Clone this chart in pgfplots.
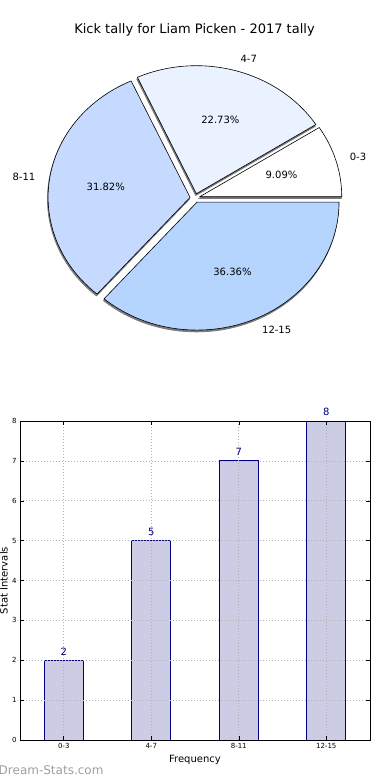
\documentclass[border=0pt]{standalone}
\usepackage{fontspec}
\setmainfont{DejaVu Sans}
\usepackage{pgfplots}
\usepackage{pgfplotstable}
\pgfplotsset{compat=1.18}
\pgfkeys{/pgf/number format/assume math mode=true}
\definecolor{s0}{HTML}{FFFFFF}
\definecolor{s1}{HTML}{EAF1FF}
\definecolor{s2}{HTML}{C6D9FF}
\definecolor{s3}{HTML}{B5D5FF}
\definecolor{navyc}{HTML}{000080}
\definecolor{barfill}{HTML}{CCCCE5}
\definecolor{shadowc}{HTML}{7A7A7A}
\definecolor{wm}{HTML}{9E9E9E}
\newcommand\pv[2]{\csname pie@#1#2\endcsname}

\pgfplotstableread{
label value
0-3 2
4-7 5
8-11 7
12-15 8
}\piedata

\pgfplotstableread{
x y
0 2
1 5
2 7
3 8
}\bardata

\begin{document}
\xdef\pietotal{0}%
\foreach \i in {0,...,3}{%
  \pgfplotstablegetelem{\i}{value}\of\piedata
  \pgfmathsetmacro\tmp{\pietotal+\pgfplotsretval}%
  \xdef\pietotal{\tmp}}%
\xdef\piecum{0}%
\def\ex{0.035}%
\foreach \i in {0,...,3}{%
  \pgfplotstablegetelem{\i}{value}\of\piedata \let\v\pgfplotsretval
  \pgfplotstablegetelem{\i}{label}\of\piedata \let\lab\pgfplotsretval
  \pgfmathsetmacro\a{360*\piecum/\pietotal}%
  \pgfmathsetmacro\b{360*(\piecum+\v)/\pietotal}%
  \pgfmathsetmacro\m{(\a+\b)/2}%
  \pgfmathsetmacro\dx{\ex*cos(\m)}%
  \pgfmathsetmacro\dy{\ex*sin(\m)}%
  \pgfmathsetmacro\sx{\dx+cos(\a)}%
  \pgfmathsetmacro\sy{\dy+sin(\a)}%
  \pgfmathsetmacro\lx{\dx+1.1*cos(\m)}%
  \pgfmathsetmacro\ly{\dy+1.1*sin(\m)}%
  \pgfmathsetmacro\px{\dx+0.6*cos(\m)}%
  \pgfmathsetmacro\py{\dy+0.6*sin(\m)}%
  \pgfmathsetmacro\pct{100*\v/\pietotal}%
  \pgfmathsetmacro\cm{cos(\m)}%
  \ifdim\cm pt>0pt \def\anc{west}\else\def\anc{east}\fi
  \expandafter\xdef\csname pie@a\i\endcsname{\a}%
  \expandafter\xdef\csname pie@b\i\endcsname{\b}%
  \expandafter\xdef\csname pie@dx\i\endcsname{\dx}%
  \expandafter\xdef\csname pie@dy\i\endcsname{\dy}%
  \expandafter\xdef\csname pie@sx\i\endcsname{\sx}%
  \expandafter\xdef\csname pie@sy\i\endcsname{\sy}%
  \expandafter\xdef\csname pie@lx\i\endcsname{\lx}%
  \expandafter\xdef\csname pie@ly\i\endcsname{\ly}%
  \expandafter\xdef\csname pie@px\i\endcsname{\px}%
  \expandafter\xdef\csname pie@py\i\endcsname{\py}%
  \expandafter\xdef\csname pie@p\i\endcsname{\pct}%
  \expandafter\xdef\csname pie@anc\i\endcsname{\anc}%
  \expandafter\xdef\csname pie@l\i\endcsname{\lab}%
  \pgfmathsetmacro\tmp{\piecum+\v}%
  \xdef\piecum{\tmp}}%
\begin{tikzpicture}
\path[use as bounding box] (0,0) rectangle (390pt,780pt);
\node[font=\fontsize{13}{15}\selectfont, anchor=center] at (194.5pt,750pt) {Kick tally for Liam Picken - 2017 tally};

% ---------- pie ----------
\begin{axis}[
  at={(195pt,582pt)}, anchor=center,
  scale only axis, width=284pt, height=256pt,
  xmin=-1, xmax=1, ymin=-1, ymax=1,
  hide axis, clip=false,
]
\pgfplotsinvokeforeach{0,...,3}{
  \filldraw[fill=shadowc, draw=shadowc, line width=0.8pt, xshift=-0.6pt, yshift=-1.8pt]
    (axis cs:{\pv{dx}{#1}},{\pv{dy}{#1}}) -- (axis cs:{\pv{sx}{#1}},{\pv{sy}{#1}})
    arc[start angle=\pv{a}{#1}, end angle=\pv{b}{#1}, x radius=142pt, y radius=128pt] -- cycle;
}
\pgfplotsinvokeforeach{0,...,3}{
  \filldraw[fill=s#1, draw=black, line width=0.6pt, line join=miter]
    (axis cs:{\pv{dx}{#1}},{\pv{dy}{#1}}) -- (axis cs:{\pv{sx}{#1}},{\pv{sy}{#1}})
    arc[start angle=\pv{a}{#1}, end angle=\pv{b}{#1}, x radius=142pt, y radius=128pt] -- cycle;
  \node[anchor=\pv{anc}{#1}, inner sep=0pt, font=\fontsize{10}{12}\selectfont]
    at (axis cs:{\pv{lx}{#1}},{\pv{ly}{#1}}) {\pv{l}{#1}};
  \node[anchor=center, inner sep=0pt, font=\fontsize{10}{12}\selectfont]
    at (axis cs:{\pv{px}{#1}},{\pv{py}{#1}}) {\pgfmathprintnumber[fixed,fixed zerofill,precision=2]{\pv{p}{#1}}\%};
}
\end{axis}

% ---------- bars ----------
\begin{axis}[
  at={(20pt,40pt)}, anchor=south west,
  scale only axis, width=350pt, height=319pt,
  xmin=-0.5, xmax=3.5, ymin=0, ymax=8,
  xtick={0,1,2,3}, xticklabels={0-3,4-7,8-11,12-15},
  ytick={0,1,...,8},
  grid=major, grid style={dash pattern=on 1.1pt off 1.9pt, gray!60, line width=0.6pt},
  axis on top,
  tick align=inside, major tick length=4pt,
  tick style={black, line width=0.5pt},
  axis line style={black, line width=0.8pt},
  ticklabel style={font=\fontsize{7}{8}\selectfont},
  xlabel={Frequency}, ylabel={Stat Intervals},
  label style={font=\fontsize{10}{12}\selectfont},
  xlabel style={at={([yshift=-20pt]axis description cs:0.5,0)}, anchor=center},
  ylabel style={at={([xshift=-16pt]axis description cs:0,0.5)}, anchor=center},
  /pgf/number format/assume math mode=true,
]
\addplot[ybar, bar width=39pt, fill=barfill, draw=navyc, line width=0.8pt,
  nodes near coords, every node near coord/.append style={navyc, font=\fontsize{10}{12}\selectfont, inner sep=0pt, anchor=south, yshift=4.5pt}]
  table[x=x, y=y] {\bardata};
\end{axis}

\node[anchor=west, inner sep=0pt, text=wm, font=\fontsize{12}{13}\selectfont] at (-1.5pt,10pt) {Dream-Stats.com};
\end{tikzpicture}
\end{document}
